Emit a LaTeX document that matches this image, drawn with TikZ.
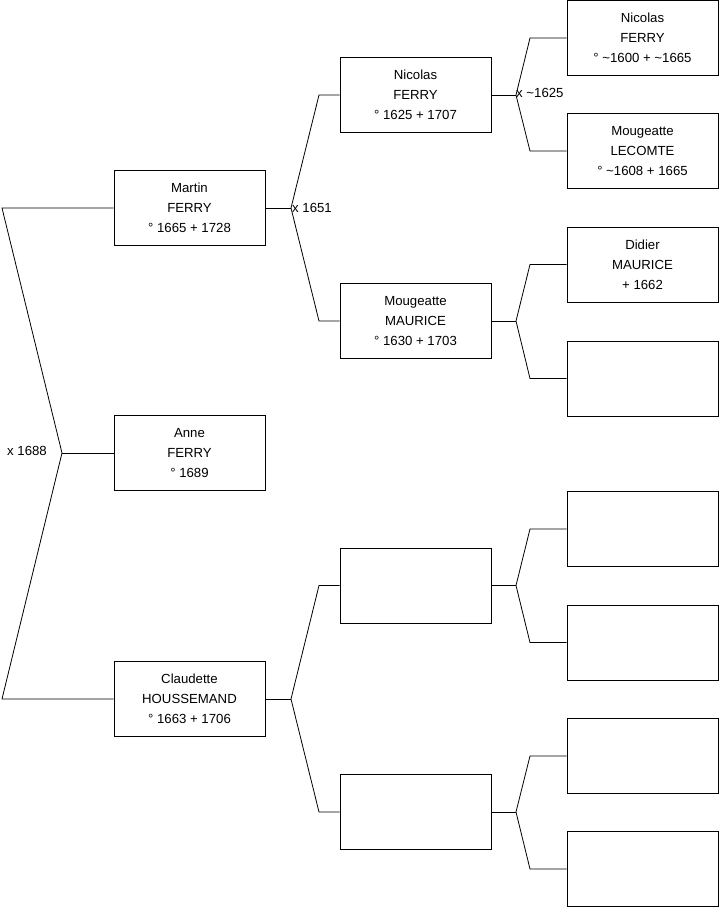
\documentclass[tikz,border=0pt]{standalone}
\usepackage{fontspec}
\setmainfont{Liberation Sans}
\tikzset{
  person/.style={draw, line width=0.8pt, minimum width=151pt, minimum height=75pt, inner sep=0pt, align=center, font=\fontsize{13.2}{20}\selectfont},
  link/.style={line width=0.8pt},
  union/.style={inner sep=0pt, font=\fontsize{13.2}{16}\selectfont}
}
\begin{document}
\begin{tikzpicture}[x=1pt, y=-1pt]
  \useasboundingbox (0,0) rectangle (719,908);

  % generation 1
  \node[person] (martin) at (189.5,208) {Martin\\FERRY\\° 1665 + 1728};
  \node[person] (anne) at (189.5,453) {Anne\\FERRY\\° 1689};
  \node[person] (claudette) at (189.5,699) {Claudette\\HOUSSEMAND\\° 1663 + 1706};

  % generation 2
  \node[person] (nicolas) at (415.5,95) {Nicolas\\FERRY\\° 1625 + 1707};
  \node[person] (mougeatte) at (415.5,321) {Mougeatte\\MAURICE\\° 1630 + 1703};
  \node[person] (g2c) at (415.5,585.5) {};
  \node[person] (g2d) at (415.5,812) {};

  % generation 3
  \node[person] (nicolasp) at (642.5,38) {Nicolas\\FERRY\\° \textasciitilde1600 + \textasciitilde1665};
  \node[person] (lecomte) at (642.5,151) {Mougeatte\\LECOMTE\\° \textasciitilde1608 + 1665};
  \node[person] (didier) at (642.5,264.5) {Didier\\MAURICE\\+ 1662};
  \node[person] (g3d) at (642.5,378.5) {};
  \node[person] (g3e) at (642.5,529) {};
  \node[person] (g3f) at (642.5,642.5) {};
  \node[person] (g3g) at (642.5,756) {};
  \node[person] (g3h) at (642.5,869) {};

  % parents of Anne
  \coordinate (j0) at (62,453);
  \coordinate (j0a) at (2,208);
  \coordinate (j0b) at (2,699);
  \draw[link] (martin.west) -- (j0a) -- (j0) -- (j0b) -- (claudette.west);
  \draw[link] (j0) -- (anne.west);
  \node[union, anchor=east] (u0) at (47,451) {x 1688};

  % parents of Martin and Claudette
  \coordinate (j1) at (291,208);
  \coordinate (j1a) at (319,95);
  \coordinate (j1b) at (319,321);
  \draw[link] (martin.east) -- (j1);
  \draw[link] (nicolas.west) -- (j1a) -- (j1) -- (j1b) -- (mougeatte.west);
  \node[union, anchor=west] (u1) at (292,208) {x 1651};

  \coordinate (j2) at (291,699);
  \coordinate (j2a) at (319,585.5);
  \coordinate (j2b) at (319,812);
  \draw[link] (claudette.east) -- (j2);
  \draw[link] (g2c.west) -- (j2a) -- (j2) -- (j2b) -- (g2d.west);

  % parents of generation 2
  \coordinate (j3) at (516,95);
  \coordinate (j3a) at (530,38);
  \coordinate (j3b) at (530,151);
  \draw[link] (nicolas.east) -- (j3);
  \draw[link] (nicolasp.west) -- (j3a) -- (j3) -- (j3b) -- (lecomte.west);
  \node[union, anchor=west] (u3) at (516,93) {x \textasciitilde1625};

  \coordinate (j4) at (516,321);
  \coordinate (j4a) at (530,264.5);
  \coordinate (j4b) at (530,378.5);
  \draw[link] (mougeatte.east) -- (j4);
  \draw[link] (didier.west) -- (j4a) -- (j4) -- (j4b) -- (g3d.west);

  \coordinate (j5) at (516,585.5);
  \coordinate (j5a) at (530,529);
  \coordinate (j5b) at (530,642.5);
  \draw[link] (g2c.east) -- (j5);
  \draw[link] (g3e.west) -- (j5a) -- (j5) -- (j5b) -- (g3f.west);

  \coordinate (j6) at (516,812);
  \coordinate (j6a) at (530,756);
  \coordinate (j6b) at (530,869);
  \draw[link] (g2d.east) -- (j6);
  \draw[link] (g3g.west) -- (j6a) -- (j6) -- (j6b) -- (g3h.west);
\end{tikzpicture}
\end{document}
